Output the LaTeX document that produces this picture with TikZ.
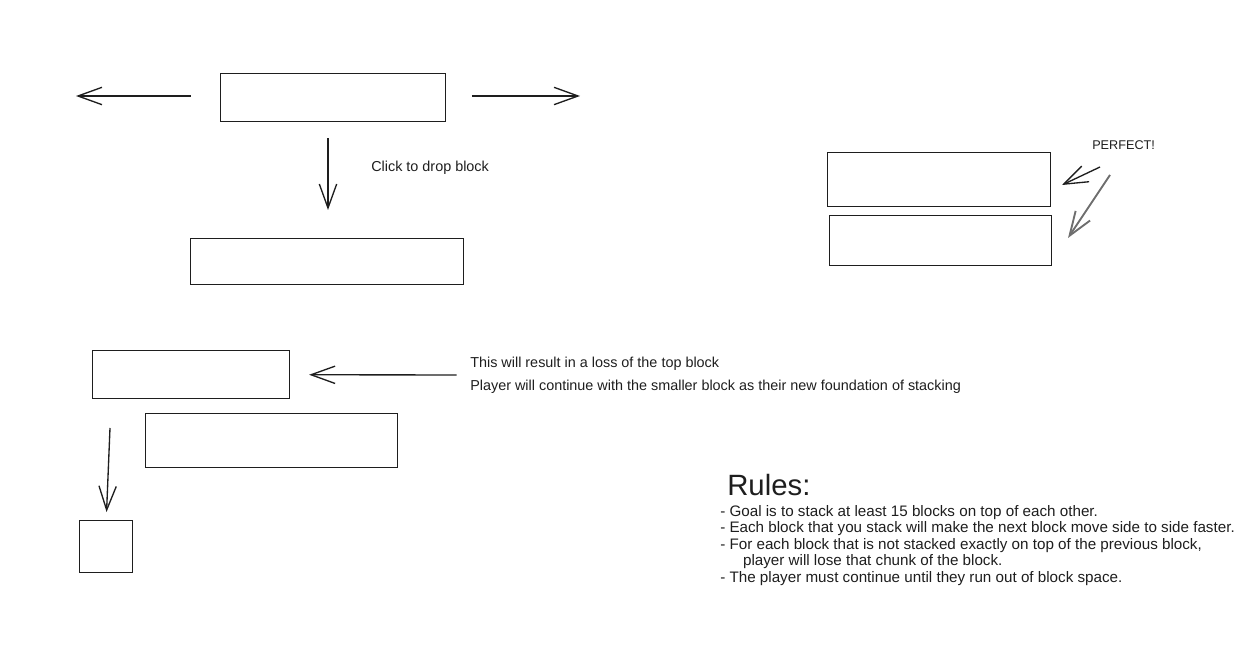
\documentclass[tikz,border=0pt]{standalone}
\usepackage{fontspec}
\setmainfont{Liberation Sans}
\usetikzlibrary{arrows.meta}
\definecolor{ink}{HTML}{1E1E1E}
\definecolor{pale}{HTML}{6E6E6E}
\tikzset{
    block/.style 2 args={draw=ink, line width=1.1pt, inner sep=0pt, anchor=north west,
        minimum width=#1*0.75pt, minimum height=#2*0.75pt},
    arrow/.style={draw=ink, line width=1pt, -{Straight Barb[length=18pt,width=13pt]}},
    note/.style={anchor=west, inner sep=0pt, align=left, text=ink,
        font=\fontsize{10.8}{17}\selectfont}
}
\begin{document}
\begin{tikzpicture}[x=0.75pt, y=-0.75pt]
    \useasboundingbox (0,0) rectangle (1253,655);
    % moving block and the block it lands on
    \node[block={225}{48}] (mover) at (220,73) {};
    \node[block={273}{46}] (landed) at (190,238) {};
    \coordinate (leftend) at (76,96);
    \coordinate (rightend) at (580,96);
    \draw[arrow, shorten <=22pt] (mover.west |- leftend) -- (leftend);
    \draw[arrow, shorten <=19pt] (mover.east |- rightend) -- (rightend);
    \draw[arrow, shorten <=12pt, shorten >=21pt] (mover.south -| 328,0) -- (328,238);
    \node[note, anchor=west] (click) at (371,168) {Click to drop block};
    % perfect stack
    \node[block={223}{54}] (stacktop) at (827,152) {};
    \node[block={222}{50}] (stackbase) at (829,215) {};
    \node[note, anchor=west, font=\fontsize{9.5}{11}\selectfont] (perfect) at (1092,145) {PERFECT!};
    \coordinate (hitA) at (1062,185);
    \coordinate (hitB) at (1068,238);
    \draw[arrow] (1100,167) -- (hitA);
    \draw[arrow, draw=pale, line width=1.4pt] (1110,175) -- (hitB);
    % overhanging drop
    \node[block={197}{48}] (lossA) at (92,350) {};
    \node[block={252}{54}] (lossB) at (145,413) {};
    \node[block={53}{52}] (chunk) at (79,520) {};
    \node[note] (loss) at (470,375) {This will result in a loss of the top block\\
        Player will continue with the smaller block as their new foundation of stacking};
    \draw[arrow, shorten <=10pt, shorten >=14pt] (loss.west) -- (lossA.east);
    \coordinate (fall) at (110,428);
    \draw[arrow, shorten >=6pt] (fall) -- (chunk.north);
    % rules
    \node[note, anchor=west, font=\fontsize{22}{24}\selectfont] (rules) at (727,485) {Rules:};
    \node[note, anchor=north west, font=\fontsize{11.4}{12.4}\selectfont] (list) at (720,505)
        {- Goal is to stack at least 15 blocks on top of each other.\\
         - Each block that you stack will make the next block move side to side faster.\\
         - For each block that is not stacked exactly on top of the previous block,\\
         \hspace*{1.5em}player will lose that chunk of the block.\\
         - The player must continue until they run out of block space.};
\end{tikzpicture}
\end{document}
